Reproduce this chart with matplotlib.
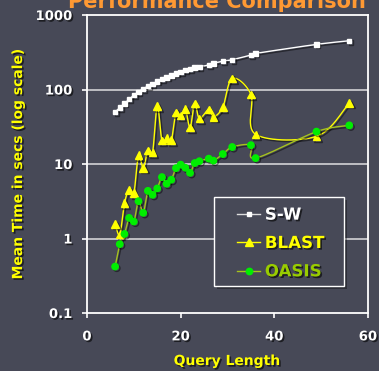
import numpy as np
import matplotlib
matplotlib.use("Agg")
import matplotlib.pyplot as plt
import matplotlib.patheffects as pe
from matplotlib.lines import Line2D
from matplotlib.patches import Rectangle
from matplotlib.legend_handler import HandlerLine2D
from matplotlib.ticker import FixedLocator, FixedFormatter

# data
sw_x = [6, 7, 8, 9, 10, 11, 12, 13, 14, 15, 16, 17, 18, 19, 20, 21, 22, 23, 24,
        26, 27, 29, 31, 35, 36, 49, 56]
sw_y = [50, 57, 65, 74, 84, 93, 102, 111, 119, 128, 138, 145, 154, 164, 173, 182,
        190, 198, 202, 213, 224, 240, 251, 290, 305, 403, 451]

blast_x = [6, 7, 8, 9, 10, 11, 12, 13, 14, 15, 16, 17, 18, 19, 20, 21, 22, 23, 24,
           26, 27, 29, 31, 35, 36, 49, 56]
blast_y = [1.57, 1.13, 2.98, 4.5, 4.07, 13.1, 8.9, 15.1, 14.3, 59.6, 20.6, 22.3,
           20.8, 49, 45, 55, 31, 65, 41, 54, 43, 58, 141, 86, 25, 23.5, 66]

oasis_x = [6, 7, 8, 9, 10, 11, 12, 13, 14, 15, 16, 17, 18, 19, 20, 21, 22, 23, 24,
           26, 27, 29, 31, 35, 36, 49, 56]
oasis_y = [0.42, 0.84, 1.15, 1.89, 1.69, 3.17, 2.21, 4.36, 3.86, 4.7, 6.67, 5.43,
           6.15, 8.8, 9.8, 8.9, 7.6, 10.3, 10.9, 11.8, 11.1, 13.6, 16.9, 17.9, 12.0,
           27.2, 33]

series_names = ["S-W", "BLAST", "OASIS"]
y_ticks = [0.1, 1, 10, 100, 1000]
y_labels = ["0.1", "1", "10", "100", "1000"]
x_ticks = [0, 20, 40, 60]

BG = "#474957"
W, H = 379, 371

plt.rcParams['font.family'] = ['DejaVu Sans']
plt.rcParams['font.weight'] = 'bold'

fig = plt.figure(figsize=(W / 100, H / 100), dpi=100, facecolor=BG)
ax = fig.add_axes([87 / W, 1 - 313 / H, 281 / W, 298 / H])
ax.set_facecolor(BG)
ax.set_yscale('log')
ax.set_xlim(0, 60)
ax.set_ylim(0.1, 1000)

txt_shadow = [pe.withSimplePatchShadow(offset=(1.2, -1.2), shadow_rgbFace='black', alpha=0.6)]
line_shadow = [pe.SimpleLineShadow(offset=(1.2, -1.2), shadow_color='black', alpha=0.45), pe.Normal()]


def smooth(x, y, n=16):
    # excel style smoothed line, done in display space
    p = ax.transData.transform(np.column_stack([x, y]))
    out = [p[0]]
    m = len(p)
    for i in range(m - 1):
        p0 = p[i]
        p3 = p[i + 1]
        pm = p[i - 1] if i > 0 else p[i]
        pn = p[i + 2] if i + 2 < m else p[i + 1]
        c1 = p0 + (p3 - pm) / 6.0
        c2 = p3 - (pn - p0) / 6.0
        for t in np.linspace(0, 1, n)[1:]:
            b = ((1 - t) ** 3) * p0 + 3 * ((1 - t) ** 2) * t * c1 + 3 * (1 - t) * t * t * c2 + t ** 3 * p3
            out.append(b)
    d = ax.transData.inverted().transform(np.array(out))
    return d[:, 0], d[:, 1]


for yt in [1, 10, 100]:
    ax.axhline(yt, color='#c8c8cc', lw=1.3, zorder=1)

sx, sy = smooth(sw_x, sw_y)
ax.plot(sx, sy, color='white', lw=1.0, zorder=3, path_effects=line_shadow)
ax.plot(sw_x, sw_y, ls='none', marker='s', ms=3.2, color='white', mec='white',
        zorder=4, path_effects=line_shadow)

bx, by = smooth(blast_x, blast_y)
ax.plot(bx, by, color='#ffff00', lw=1.0, zorder=3, path_effects=line_shadow)
ax.plot(blast_x, blast_y, ls='none', marker='^', ms=5.5, color='#ffff00', mec='#ffff00',
        zorder=4, path_effects=line_shadow)

ox, oy = smooth(oasis_x, oasis_y)
ax.plot(ox, oy, color='#a6c21e', lw=1.0, zorder=3, path_effects=line_shadow)
ax.plot(oasis_x, oasis_y, ls='none', marker='o', ms=4.6, color='#00ee00', mec='#00ee00',
        zorder=4, path_effects=line_shadow)

# legend box drawn by hand so its size matches
box = Rectangle((214 / W, 1 - 286 / H), 130 / W, 89 / H, transform=fig.transFigure,
                facecolor=BG, edgecolor='white', lw=1.0, zorder=4.8, clip_on=False,
                path_effects=[pe.withSimplePatchShadow(offset=(2, -2), shadow_rgbFace='black', alpha=0.35)])
ax.add_patch(box)

h_sw = Line2D([], [], color='#dddddd', lw=1.0, marker='s', ms=3.2, mfc='white', mec='white')
h_bl = Line2D([], [], color='#ffff00', lw=1.0, marker='^', ms=5.5, mfc='#ffff00', mec='#ffff00')
h_oa = Line2D([], [], color='#a6c21e', lw=1.0, marker='o', ms=4.6, mfc='#00ee00', mec='#00ee00')

leg = ax.legend([h_sw, h_bl, h_oa], series_names,
                loc='upper left', bbox_to_anchor=(214 / W, 1 - 199 / H),
                bbox_transform=fig.transFigure, borderaxespad=0,
                prop={'size': 12, 'weight': 'bold'}, handlelength=2.37,
                handletextpad=0.28, labelspacing=0.62, borderpad=0.4,
                frameon=False, handler_map={Line2D: HandlerLine2D(xpad=0.97)})
leg.set_zorder(5)
for t, c in zip(leg.get_texts(), ['white', '#ffff00', '#99cc00']):
    t.set_color(c)
    t.set_path_effects(txt_shadow)

for s in ax.spines.values():
    s.set_color('white')
    s.set_linewidth(1.3)

ax.yaxis.set_major_locator(FixedLocator(y_ticks))
ax.yaxis.set_major_formatter(FixedFormatter(y_labels))
ax.yaxis.set_minor_locator(FixedLocator([]))
ax.set_xticks(x_ticks)
ax.tick_params(axis='both', colors='white', labelsize=9.5, length=3.5, width=1.2,
               direction='out')
ax.tick_params(axis='y', pad=7)
ax.tick_params(axis='x', pad=9)
for lab in ax.get_xticklabels() + ax.get_yticklabels():
    lab.set_fontweight('bold')
    lab.set_path_effects(txt_shadow)

fig.text(18 / W, 1 - 164 / H, "Mean Time in secs (log scale)", rotation=90,
         ha='center', va='center', color='#ffff00', fontsize=10, fontweight='bold',
         path_effects=txt_shadow)
fig.text(227 / W, 1 - 361 / H, "Query Length", ha='center', va='center',
         color='#ffff00', fontsize=10, fontweight='bold', path_effects=txt_shadow)
# slide title, cut by the top edge as in the original
fig.text(217 / W, 1 - 8 / H, "Performance Comparison", ha='center', va='baseline',
         color='#ff9933', fontsize=15, fontweight='bold')

fig.savefig("out.png", dpi=100, facecolor=BG)
